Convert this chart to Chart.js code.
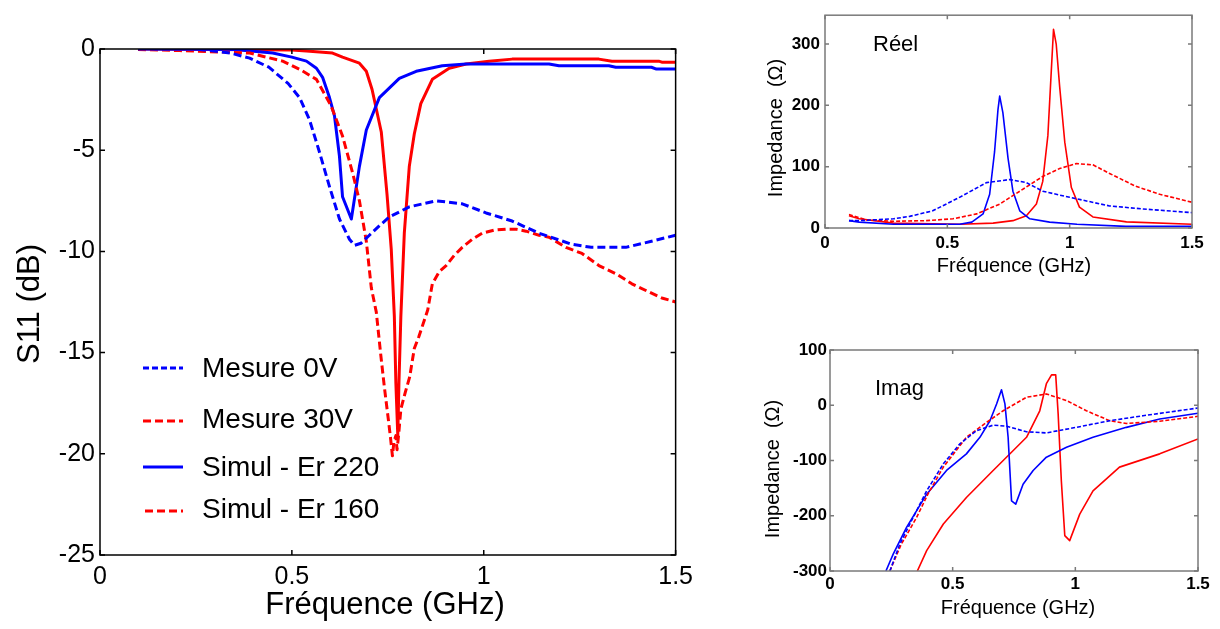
<!DOCTYPE html>
<html><head><meta charset="utf-8">
<script src="https://cdn.jsdelivr.net/npm/chart.js@4/dist/chart.umd.min.js"></script>
<style>
html,body{margin:0;padding:0;background:#fff;width:1220px;height:629px;overflow:hidden}
canvas{position:absolute}
</style></head><body>
<canvas id="c1" width="700" height="629" style="left:0;top:0"></canvas>
<canvas id="c2" width="480" height="290" style="left:740px;top:0"></canvas>
<canvas id="c3" width="480" height="299" style="left:740px;top:330px"></canvas>
<script>
// ---------- Main chart: S11 (dB) vs frequency (GHz) ----------
const seriesNames = ['Mesure 0V', 'Mesure 30V', 'Simul - Er 220', 'Simul - Er 160'];

const freqMesure0V = [0.099,0.26,0.34,0.39,0.44,0.49,0.52,0.546,0.572,0.598,0.624,0.65,0.663,0.68,0.702,0.73,0.754,0.806,0.876,0.944,1.006,1.074,1.144,1.23,1.28,1.37,1.437,1.5];
const s11Mesure0V  = [0,-0.02,-0.2,-0.45,-0.9,-1.7,-2.4,-3.5,-5.1,-6.8,-8.4,-9.4,-9.7,-9.6,-9.2,-8.7,-8.3,-7.8,-7.5,-7.65,-8.1,-8.5,-9.1,-9.65,-9.8,-9.8,-9.5,-9.2];

const freqMesure30V = [0.099,0.208,0.39,0.476,0.52,0.564,0.602,0.632,0.658,0.676,0.694,0.707,0.72,0.731,0.741,0.752,0.757,0.762,0.766,0.771,0.774,0.778,0.784,0.795,0.807,0.819,0.831,0.854,0.866,0.884,0.902,0.923,0.944,0.97,0.996,1.027,1.058,1.084,1.11,1.144,1.17,1.214,1.256,1.3,1.344,1.386,1.43,1.464,1.5];
const s11Mesure30V  = [-0.02,-0.08,-0.2,-0.6,-1.0,-1.5,-2.8,-4.3,-6.1,-7.5,-9.5,-11.8,-13.0,-15.0,-16.7,-18.4,-19.2,-20.1,-19.4,-19.1,-19.8,-19.1,-17.8,-17.0,-16.2,-14.8,-14.2,-12.9,-11.6,-11.0,-10.7,-10.2,-9.8,-9.4,-9.1,-8.95,-8.9,-8.9,-9.0,-9.2,-9.3,-9.8,-10.1,-10.7,-11.1,-11.6,-12.0,-12.3,-12.5];

const freqSimul220 = [0.099,0.35,0.45,0.5,0.538,0.564,0.58,0.598,0.611,0.624,0.632,0.655,0.676,0.694,0.728,0.78,0.824,0.892,0.954,1.17,1.196,1.326,1.344,1.437,1.45,1.5];
const s11Simul220  = [0,-0.02,-0.2,-0.4,-0.6,-0.95,-1.4,-2.4,-3.3,-5.3,-7.3,-8.4,-5.8,-4.0,-2.4,-1.45,-1.1,-0.83,-0.74,-0.74,-0.83,-0.83,-0.9,-0.9,-0.99,-0.99];

const freqSimul160 = [0.099,0.5,0.538,0.572,0.606,0.632,0.676,0.694,0.709,0.733,0.748,0.759,0.767,0.771,0.776,0.779,0.784,0.793,0.806,0.819,0.836,0.866,0.91,0.954,1.014,1.074,1.3,1.334,1.456,1.464,1.5];
const s11Simul160  = [0,-0.05,-0.1,-0.15,-0.2,-0.4,-0.7,-1.1,-2.0,-4.1,-7.2,-9.9,-13.2,-16.5,-19.1,-16.5,-13.2,-9.1,-5.8,-4.2,-2.7,-1.5,-0.95,-0.74,-0.6,-0.5,-0.5,-0.6,-0.6,-0.65,-0.65];

const freqTicks = [0, 0.5, 1, 1.5];
const freqTickLabels = ['0', '0.5', '1', '1.5'];
const s11Ticks = [0, -5, -10, -15, -20, -25];
const s11TickLabels = ['0', '-5', '-10', '-15', '-20', '-25'];

// ---------- Impedance, real part ----------
const freqReBlueSolid = [0.098,0.14,0.28,0.55,0.6,0.646,0.673,0.693,0.707,0.714,0.727,0.748,0.768,0.796,0.837,0.918,1.03,1.23,1.5];
const reBlueSolid     = [12,9.6,6,6,9.6,23,55,124,193,215,188,114,60,28,15,9.6,6,2.7,2.7];
const freqReRedSolid  = [0.098,0.14,0.28,0.55,0.687,0.768,0.823,0.864,0.89,0.911,0.925,0.934,0.945,0.959,0.98,1.007,1.04,1.095,1.232,1.5];
const reRedSolid      = [20,15,8,6,8,12,20,39,76,151,257,324,300,231,140,66,34,18,10,6];
const freqReBlueDash  = [0.098,0.14,0.28,0.346,0.44,0.55,0.66,0.755,0.823,0.89,1.0,1.163,1.3,1.5];
const reBlueDash      = [12,12,15,19,28,50,74,79,74,60,50,36,31,25];
const freqReRedDash   = [0.098,0.17,0.28,0.414,0.523,0.62,0.714,0.796,0.89,0.959,1.027,1.095,1.163,1.27,1.368,1.5];
const reRedDash       = [22,13,11,12,15,23,39,60,84,97,105,103,89,68,55,42];
const reTicks = [0, 100, 200, 300];
const reTickLabels = ['0', '100', '200', '300'];

// ---------- Impedance, imaginary part ----------
const freqImBlueSolid = [0.228,0.258,0.312,0.394,0.475,0.556,0.611,0.652,0.679,0.699,0.713,0.726,0.74,0.757,0.787,0.828,0.882,0.964,1.072,1.208,1.344,1.5];
const imBlueSolid     = [-300,-269,-221,-161,-118,-88,-58,-28,2.4,28,2.4,-58,-173,-179,-143,-118,-94,-76,-58,-40,-25,-14.5];
const freqImBlueDash  = [0.244,0.285,0.339,0.394,0.462,0.529,0.597,0.665,0.72,0.801,0.882,1.004,1.14,1.276,1.5];
const imBlueDash      = [-300,-251,-203,-155,-106,-70,-46,-36,-38,-48,-50,-40,-28,-19,-5];
const freqImRedDash   = [0.244,0.29,0.353,0.4,0.462,0.556,0.638,0.706,0.801,0.882,0.964,1.045,1.14,1.208,1.344,1.5];
const imRedDash       = [-300,-252,-203,-160,-112,-58,-31,-10,14.5,20.5,8.5,-10,-28,-33,-29,-20];
const freqImRedSolid  = [0.356,0.394,0.462,0.556,0.665,0.747,0.801,0.855,0.882,0.903,0.92,0.93,0.943,0.957,0.977,1.018,1.072,1.18,1.344,1.5];
const imRedSolid      = [-300,-263,-215,-167,-118,-82,-58,-10,39,55,55,-16,-137,-236,-245,-197,-155,-112,-88,-61];
const imTicks = [-300, -200, -100, 0, 100];
const imTickLabels = ['-300', '-200', '-100', '0', '100'];

// ---------- helpers ----------
const FONT = "'Liberation Sans', Arial, Helvetica, sans-serif";
const BLUE = '#0000ff', RED = '#ff0000';
const pts = (xs, ys) => xs.map((x, i) => ({ x, y: ys[i] }));

function framePlugin(color, width, len) {
  return {
    id: 'frame',
    afterDatasetsDraw(chart) {
      const { ctx, chartArea: a, scales: { x, y } } = chart;
      ctx.save();
      ctx.strokeStyle = color; ctx.lineWidth = width;
      ctx.strokeRect(a.left, a.top, a.right - a.left, a.bottom - a.top);
      ctx.beginPath();
      x.ticks.forEach(t => {
        const p = x.getPixelForValue(t.value);
        ctx.moveTo(p, a.bottom); ctx.lineTo(p, a.bottom - len);
        ctx.moveTo(p, a.top); ctx.lineTo(p, a.top + len);
      });
      y.ticks.forEach(t => {
        const p = y.getPixelForValue(t.value);
        ctx.moveTo(a.left, p); ctx.lineTo(a.left + len, p);
        ctx.moveTo(a.right, p); ctx.lineTo(a.right - len, p);
      });
      ctx.stroke();
      ctx.restore();
    }
  };
}

function textPlugin(items) {
  return {
    id: 'texts',
    afterDraw(chart) {
      const ctx = chart.ctx;
      items.forEach(it => {
        ctx.save();
        ctx.font = it.font; ctx.fillStyle = it.color || '#000';
        ctx.textAlign = it.align || 'center'; ctx.textBaseline = 'middle';
        ctx.translate(it.x, it.y);
        if (it.rot) ctx.rotate(it.rot);
        ctx.fillText(it.text, 0, 0);
        ctx.restore();
      });
    }
  };
}

// legend as drawn in the reference (the last swatch is dashed there)
function legendPlugin(rows) {
  return {
    id: 'customLegend',
    afterDraw(chart) {
      const ctx = chart.ctx;
      chart.data.datasets.forEach((ds, i) => {
        const r = rows[i];
        ctx.save();
        ctx.strokeStyle = ds.borderColor; ctx.lineWidth = ds.borderWidth;
        ctx.setLineDash(r.dash || ds.borderDash || []);
        ctx.beginPath(); ctx.moveTo(r.x0 || 143, r.line); ctx.lineTo(183, r.line); ctx.stroke();
        ctx.setLineDash([]);
        ctx.font = '28px ' + FONT; ctx.fillStyle = '#000';
        ctx.textAlign = 'left'; ctx.textBaseline = 'middle';
        ctx.fillText(ds.label, 202, r.text);
        ctx.restore();
      });
    }
  };
}

function makeChart(id, datasets, c) {
  return new Chart(document.getElementById(id), {
    type: 'line',
    data: { datasets },
    options: {
      responsive: false, animation: false, devicePixelRatio: 1,
      layout: { padding: c.padding },
      plugins: { legend: { display: false }, tooltip: { enabled: false } },
      elements: { point: { radius: 0 }, line: { tension: 0, borderJoinStyle: 'round' } },
      scales: {
        x: {
          type: 'linear', min: 0, max: 1.5,
          afterFit: s => { s.height = c.xh; },
          afterBuildTicks: s => { s.ticks = freqTicks.map(v => ({ value: v })); },
          ticks: { callback: v => freqTickLabels[freqTicks.indexOf(v)], font: c.tickFont, color: '#000', padding: c.xPad, maxRotation: 0, autoSkip: false },
          grid: { display: false, drawTicks: false }, border: { display: false }
        },
        y: {
          type: 'linear', min: c.ymin, max: c.ymax,
          afterFit: s => { s.width = c.yw; },
          afterBuildTicks: s => { s.ticks = c.yTicks.map(v => ({ value: v })); },
          ticks: { callback: v => c.yLabels[c.yTicks.indexOf(v)], font: c.tickFont, color: '#000', padding: c.yPad, autoSkip: false },
          grid: { display: false, drawTicks: false }, border: { display: false }
        }
      }
    },
    plugins: c.plugins
  });
}

// ---------- Main chart ----------
makeChart('c1', [
  { label: seriesNames[0], data: pts(freqMesure0V, s11Mesure0V), borderColor: BLUE, borderWidth: 3, borderDash: [8, 4] },
  { label: seriesNames[1], data: pts(freqMesure30V, s11Mesure30V), borderColor: RED, borderWidth: 3, borderDash: [8, 4] },
  { label: seriesNames[2], data: pts(freqSimul220, s11Simul220), borderColor: BLUE, borderWidth: 3 },
  { label: seriesNames[3], data: pts(freqSimul160, s11Simul160), borderColor: RED, borderWidth: 3 }
], {
  padding: { top: 49, right: 23, left: 0, bottom: 0 },
  xh: 74, yw: 100, ymin: -25, ymax: 0,
  yTicks: s11Ticks, yLabels: s11TickLabels,
  tickFont: { family: FONT, size: 25 }, xPad: 7, yPad: 5,
  plugins: [
    framePlugin('#000', 1.5, 5),
    textPlugin([
      { text: 'Fréquence (GHz)', x: 385, y: 605, font: '31px ' + FONT },
      { text: 'S11 (dB)', x: 30, y: 304, font: '31px ' + FONT, rot: -Math.PI / 2 }
    ]),
    legendPlugin([
      { line: 368, text: 369, dash: [6, 3] },
      { line: 421, text: 420, dash: [8, 4] },
      { line: 467, text: 468 },
      { line: 511, text: 510, dash: [8, 4], x0: 145 }
    ])
  ]
});

// ---------- Real part chart ----------
const smallFont = { family: FONT, size: 17, weight: 'bold' };
makeChart('c2', [
  { label: 'Re blue dashed', data: pts(freqReBlueDash, reBlueDash), borderColor: BLUE, borderWidth: 1.6, borderDash: [4, 2] },
  { label: 'Re red dashed', data: pts(freqReRedDash, reRedDash), borderColor: RED, borderWidth: 1.6, borderDash: [4, 2] },
  { label: 'Re blue solid', data: pts(freqReBlueSolid, reBlueSolid), borderColor: BLUE, borderWidth: 1.6 },
  { label: 'Re red solid', data: pts(freqReRedSolid, reRedSolid), borderColor: RED, borderWidth: 1.6 }
], {
  padding: { top: 11, right: 28, left: 0, bottom: 0 },
  xh: 62, yw: 85, ymin: 0, ymax: 347,
  yTicks: reTicks, yLabels: reTickLabels,
  tickFont: smallFont, xPad: 5, yPad: 5,
  plugins: [
    framePlugin('#7a7a7a', 1.5, 4),
    textPlugin([
      { text: 'Fréquence (GHz)', x: 274, y: 266, font: '20px ' + FONT },
      { text: 'Impedance  (Ω)', x: 36, y: 128, font: '20px ' + FONT, rot: -Math.PI / 2 },
      { text: 'Réel', x: 133, y: 45, font: '22px ' + FONT, align: 'left' }
    ])
  ]
});

// ---------- Imaginary part chart ----------
makeChart('c3', [
  { label: 'Im blue dashed', data: pts(freqImBlueDash, imBlueDash), borderColor: BLUE, borderWidth: 1.6, borderDash: [4, 2] },
  { label: 'Im red dashed', data: pts(freqImRedDash, imRedDash), borderColor: RED, borderWidth: 1.6, borderDash: [4, 2] },
  { label: 'Im blue solid', data: pts(freqImBlueSolid, imBlueSolid), borderColor: BLUE, borderWidth: 1.6 },
  { label: 'Im red solid', data: pts(freqImRedSolid, imRedSolid), borderColor: RED, borderWidth: 1.6 }
], {
  padding: { top: 20, right: 22, left: 0, bottom: 0 },
  xh: 58, yw: 90, ymin: -300, ymax: 100,
  yTicks: imTicks, yLabels: imTickLabels,
  tickFont: smallFont, xPad: 3, yPad: 3,
  plugins: [
    framePlugin('#7a7a7a', 1.5, 4),
    textPlugin([
      { text: 'Fréquence (GHz)', x: 278, y: 278, font: '20px ' + FONT },
      { text: 'Impedance  (Ω)', x: 33, y: 139, font: '20px ' + FONT, rot: -Math.PI / 2 },
      { text: 'Imag', x: 135, y: 59, font: '22px ' + FONT, align: 'left' }
    ])
  ]
});
</script>
</body></html>
